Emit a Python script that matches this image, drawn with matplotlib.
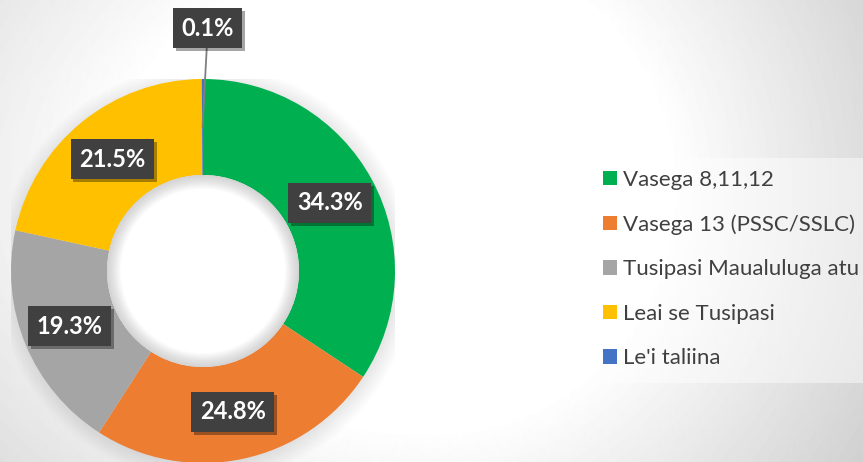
import numpy as np
import matplotlib
matplotlib.use("Agg")
import matplotlib.pyplot as plt
from matplotlib import patheffects
from matplotlib.patches import Circle, Wedge, Rectangle

# data
categories = [
    "Vasega 8,11,12",
    "Vasega 13 (PSSC/SSLC)",
    "Tusipasi Maualuluga atu",
    "Leai se Tusipasi",
    "Le'i taliina",
]
shares = [34.3, 24.8, 19.3, 21.5, 0.1]
colors = ["#00B050", "#ED7D31", "#A5A5A5", "#FFC000", "#4472C4"]

W, H = 863, 462
fig = plt.figure(figsize=(W / 100, H / 100), dpi=100)

# background: soft radial gradient
bg = fig.add_axes([0, 0, 1, 1], zorder=0)
yy, xx = np.mgrid[0:H, 0:W]
cx, cy = 430, 190
sx = np.where(xx < cx, 0.75, 1.0)
d = np.sqrt(((xx - cx) * sx) ** 2 + (yy - cy) ** 2)
v = 1 - np.clip((d - 240) / 280, 0, 1) * 0.19
bg.imshow(v, cmap="gray", vmin=0, vmax=1, extent=(0, W, H, 0), aspect="auto")
bg.set_xlim(0, W)
bg.set_ylim(H, 0)
bg.axis("off")

# legend panel
fig.patches.append(
    Rectangle((562 / W, 1 - 383 / H), (W - 562) / W, (383 - 158) / H,
              transform=fig.transFigure, facecolor="white", alpha=0.45,
              edgecolor="none", zorder=1)
)

# donut
cxp, cyp, R = 203, 271, 192
ax = fig.add_axes([(cxp - R) / W, (H - cyp - R) / H, 2 * R / W, 2 * R / H], zorder=2)

# faint glow around the ring
for i in range(8):
    ax.add_patch(Circle((0.01, -0.01), 1.0 + 0.012 * i, facecolor="#808080",
                        alpha=0.025, edgecolor="none", zorder=0))

wedges, _ = ax.pie(
    shares,
    colors=colors,
    startangle=90,
    counterclock=False,
    radius=1,
    wedgeprops=dict(width=0.5, edgecolor="none"),
)
for w in wedges:
    w.set_zorder(2)
ax.set_xlim(-1, 1)
ax.set_ylim(-1, 1)
ax.axis("off")

# hole: white with inner shadow near its edge
ax.add_patch(Circle((0, 0), 0.5, facecolor="white", edgecolor="none", zorder=3))
for k in range(12):
    ax.add_patch(Wedge((0, 0), 0.5, 0, 360, width=0.006 * (k + 1),
                       facecolor="#909090", alpha=0.035, edgecolor="none", zorder=4))

label_kw = dict(
    ha="center", va="center", color="white", fontsize=17, fontweight="bold",
    family=["Lato", "DejaVu Sans"], zorder=6,
    bbox=dict(boxstyle="square,pad=0.36", fc="#404040", ec="none"),
)
shadow = [patheffects.SimplePatchShadow(offset=(2, -2), shadow_rgbFace="#000000", alpha=0.35),
          patheffects.Normal()]

for w, val in zip(wedges, shares):
    mid = np.deg2rad((w.theta1 + w.theta2) / 2)
    px, py = 0.75 * np.cos(mid), 0.75 * np.sin(mid)
    txt = f"{val:.1f}%"
    if val < 1:
        t = ax.annotate(txt, xy=(px, py), xytext=(0.025, 1.265),
                        arrowprops=dict(arrowstyle="-", color="#7F7F7F", lw=1.3,
                                        shrinkA=0, shrinkB=0),
                        annotation_clip=False, **label_kw)
        t.arrow_patch.set_zorder(5)
    else:
        t = ax.text(px, py, txt, **label_kw)
    t.get_bbox_patch().set_path_effects(shadow)

leg = ax.legend(
    wedges, categories,
    loc="upper left",
    bbox_to_anchor=(603 / W, 1 - 170 / H),
    bbox_transform=fig.transFigure,
    frameon=False,
    prop=dict(family=["Lato", "DejaVu Sans"], size=16),
    handlelength=0.63, handleheight=0.63, handletextpad=0.25,
    labelspacing=1.1, borderpad=0, borderaxespad=0,
)
for text in leg.get_texts():
    text.set_color("#404040")

fig.savefig("out.png", dpi=100)
